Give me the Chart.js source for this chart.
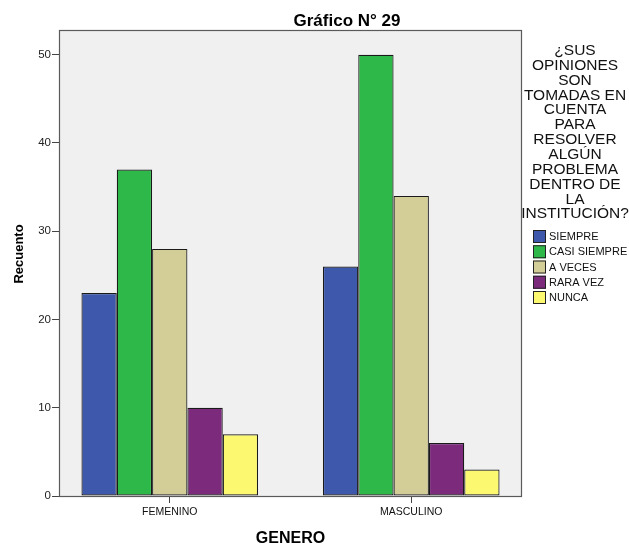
<!DOCTYPE html>
<html>
<head>
<meta charset="utf-8">
<script src="https://cdn.jsdelivr.net/npm/chart.js@4"></script>
<style>
  body { margin: 0; background: #fff; }
  #wrap { width: 629px; height: 547px; }
</style>
</head>
<body>
<div id="wrap"><canvas id="grafico" width="629" height="547"></canvas></div>
<script>
const categories = ['FEMENINO', 'MASCULINO'];
const seriesNames = ['SIEMPRE', 'CASI SIEMPRE', 'A VECES', 'RARA VEZ', 'NUNCA'];
const siempre = [23, 26];
const casiSiempre = [37, 50];
const aVeces = [28, 34];
const raraVez = [10, 6];
const nunca = [7, 3];
const yTicks = [0, 10, 20, 30, 40, 50];
const legendTitle = ['¿SUS', 'OPINIONES', 'SON', 'TOMADAS EN', 'CUENTA', 'PARA',
  'RESOLVER', 'ALGÚN', 'PROBLEMA', 'DENTRO DE', 'LA', 'INSTITUCIÓN?'];
const colors = ['#3e58ac', '#2fb84a', '#d3ce97', '#7b2a7c', '#fcf870'];

const FONT = "'Liberation Sans', Arial, sans-serif";
const ctx = document.getElementById('grafico').getContext('2d');

// x positions 1, 2 for the categories
function toPoints(values) {
  return values.map((v, i) => ({ x: i + 1, y: v }));
}

// fondo gris del area de trazado + marco
const plotBox = {
  id: 'plotBox',
  beforeDatasetsDraw(chart) {
    const a = chart.chartArea;
    const c = chart.ctx;
    c.save();
    c.fillStyle = '#f0f0f0';
    c.fillRect(a.left, a.top, a.right - a.left, a.bottom - a.top);
    c.strokeStyle = '#5a5a5a';
    c.lineWidth = 1.2;
    c.strokeRect(a.left + 0.5, a.top + 0.5, a.right - a.left - 1, a.bottom - a.top);
    c.restore();
  }
};

// titulo, eje Y y leyenda dibujados a mano (el titulo de la leyenda tiene muchas lineas)
const sideLegend = {
  id: 'sideLegend',
  afterDraw(chart) {
    const c = chart.ctx;
    c.save();
    c.fillStyle = '#000';
    c.font = 'bold 17px ' + FONT;
    c.textAlign = 'center';
    c.textBaseline = 'alphabetic';
    c.fillText('Gráfico N° 29', 347, 26);

    // Recuento
    c.save();
    c.translate(23, 254);
    c.rotate(-Math.PI / 2);
    c.font = 'bold 13px ' + FONT;
    c.fillText('Recuento', 0, 0);
    c.restore();

    c.font = '15.5px ' + FONT;
    c.fillStyle = '#111';
    legendTitle.forEach((line, i) => {
      c.fillText(line, 575, 55 + i * 14.85);
    });

    c.textAlign = 'left';
    c.textBaseline = 'middle';
    c.font = '11px ' + FONT;
    chart.data.datasets.forEach((ds, i) => {
      const y = 230 + i * 15.25;
      c.fillStyle = ds.backgroundColor;
      c.fillRect(533, y, 13, 13);
      c.strokeStyle = '#222';
      c.lineWidth = 1;
      c.strokeRect(533.5, y + 0.5, 12, 12);
      c.fillStyle = '#111';
      c.fillText(ds.label, 549, y + 7);
    });
    c.restore();
  }
};

const seriesData = [siempre, casiSiempre, aVeces, raraVez, nunca];

new Chart(ctx, {
  type: 'bar',
  data: {
    datasets: seriesData.map((vals, i) => ({
      label: seriesNames[i],
      data: toPoints(vals),
      backgroundColor: colors[i],
      borderColor: '#1a1a1a',
      borderWidth: 1.2,
      borderSkipped: false,
      categoryPercentage: 0.7314,
      barPercentage: 1
    }))
  },
  options: {
    responsive: false,
    animation: false,
    layout: { padding: { top: 30, right: 107, left: 0, bottom: 0 } },
    plugins: {
      legend: { display: false },
      tooltip: { enabled: false }
    },
    scales: {
      x: {
        type: 'linear',
        offset: false,
        min: 0.5413,
        max: 2.4587,
        afterBuildTicks: s => { s.ticks = categories.map((c, i) => ({ value: i + 1 })); },
        afterFit: s => { s.height = 51; },
        ticks: {
          callback: v => categories[v - 1],
          font: { family: FONT, size: 10.5 },
          color: '#111',
          padding: 3,
          maxRotation: 0
        },
        grid: { drawOnChartArea: false, drawTicks: true, tickLength: 7, color: '#444', offset: false },
        border: { display: false },
        title: {
          display: true,
          text: 'GENERO',
          font: { family: FONT, size: 16, weight: 'bold', lineHeight: 1 },
          color: '#000',
          padding: { top: 0, bottom: 0 }
        }
      },
      y: {
        min: 0,
        max: 52.8,
        afterBuildTicks: s => { s.ticks = yTicks.map(v => ({ value: v })); },
        afterFit: s => { s.width = 59; },
        ticks: {
          font: { family: FONT, size: 11.5 },
          color: '#222',
          padding: 1
        },
        grid: { drawOnChartArea: false, drawTicks: true, tickLength: 7, color: '#444' },
        border: { display: false },
        title: { display: false }
      }
    }
  },
  plugins: [plotBox, sideLegend]
});
</script>
</body>
</html>
